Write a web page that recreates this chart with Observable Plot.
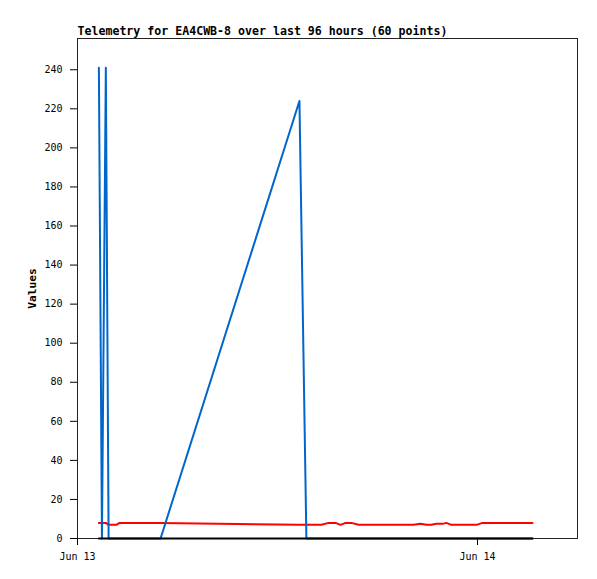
<!DOCTYPE html>
<html>
<head>
<meta charset="utf-8">
<script src="https://cdn.jsdelivr.net/npm/d3@7"></script>
<script src="https://cdn.jsdelivr.net/npm/@observablehq/plot@0.6"></script>
<style>
  html, body { margin: 0; padding: 0; background: #fff; }
  #chart svg { display: block; }
</style>
</head>
<body>
<div id="chart"></div>
<script>
const title = "Telemetry for EA4CWB-8 over last 96 hours (60 points)";
const yLabel = "Values";

const times = [
  "2024-06-13T01:17Z", "2024-06-13T01:28Z", "2024-06-13T01:42Z", "2024-06-13T01:52Z",
  "2024-06-13T02:20Z", "2024-06-13T02:31Z", "2024-06-13T04:59Z", "2024-06-13T13:19Z",
  "2024-06-13T13:44Z", "2024-06-13T14:38Z", "2024-06-13T15:04Z", "2024-06-13T15:29Z",
  "2024-06-13T15:47Z", "2024-06-13T16:05Z", "2024-06-13T16:26Z", "2024-06-13T16:52Z",
  "2024-06-13T20:10Z", "2024-06-13T20:35Z", "2024-06-13T20:56Z", "2024-06-13T21:14Z",
  "2024-06-13T21:32Z", "2024-06-13T21:54Z", "2024-06-13T22:08Z", "2024-06-13T22:26Z",
  "2024-06-13T23:56Z", "2024-06-14T00:18Z", "2024-06-14T03:18Z"
];
const blueValues = [241, 0, 241, 0, 0, 0, 0, 224, 0, 0, 0, 0, 0, 0, 0, 0, 0, 0, 0, 0, 0, 0, 0, 0, 0, 0, 0];
const redValues  = [8, 8, 8, 7, 7, 8, 8, 7, 7, 7, 8, 8, 7, 8, 8, 7, 7, 7.6, 7, 7, 7.5, 7.5, 8, 7, 7, 8, 8];
const blackValues = [0, 0, 0, 0, 0, 0, 0, 0, 0, 0, 0, 0, 0, 0, 0, 0, 0, 0, 0, 0, 0, 0, 0, 0, 0, 0, 0];

const xDomain = ["2024-06-13T00:00Z", "2024-06-14T06:00Z"];
const xTicks = ["2024-06-13T00:00Z", "2024-06-14T00:00Z"];
const xTickLabels = ["Jun 13", "Jun 14"];
const yDomain = [0, 256];
const yTicks = [0, 20, 40, 60, 80, 100, 120, 140, 160, 180, 200, 220, 240];

const rows = times.map((t, i) => ({
  t: new Date(t), blue: blueValues[i], red: redValues[i], black: blackValues[i]
}));
const xTickDates = xTicks.map(d => new Date(d));

const chart = Plot.plot({
  width: 597,
  height: 579,
  marginLeft: 77,
  marginRight: 20,
  marginTop: 38,
  marginBottom: 41,
  style: { fontFamily: "'DejaVu Sans Mono', monospace", fontSize: "10px", background: "#fff", color: "#000" },
  x: { type: "utc", domain: xDomain.map(d => new Date(d)) },
  y: { domain: yDomain },
  marks: [
    Plot.frame({ stroke: "#222" }),
    Plot.axisY({ ticks: yTicks, tickSize: 7, tickPadding: 8, label: null }),
    Plot.axisX({
      ticks: xTickDates, tickSize: 7, tickPadding: 7, label: null,
      tickFormat: d => xTickLabels[xTickDates.findIndex(t => +t === +d)]
    }),
    Plot.lineY(rows, { x: "t", y: "red", stroke: "#ff0000", strokeWidth: 2 }),
    Plot.lineY(rows, { x: "t", y: "blue", stroke: "#0066cc", strokeWidth: 2 }),
    Plot.lineY(rows, { x: "t", y: "black", stroke: "#000", strokeWidth: 2 }),
    Plot.text([title], { frameAnchor: "top-left", textAnchor: "start", lineAnchor: "middle", dy: -7, fontWeight: "bold", fontSize: 11.6 }),
    Plot.text([yLabel], { frameAnchor: "left", textAnchor: "middle", rotate: -90, dx: -45, fontWeight: "bold", fontSize: 11.2 })
  ]
});
document.getElementById("chart").appendChild(chart);
</script>
</body>
</html>
